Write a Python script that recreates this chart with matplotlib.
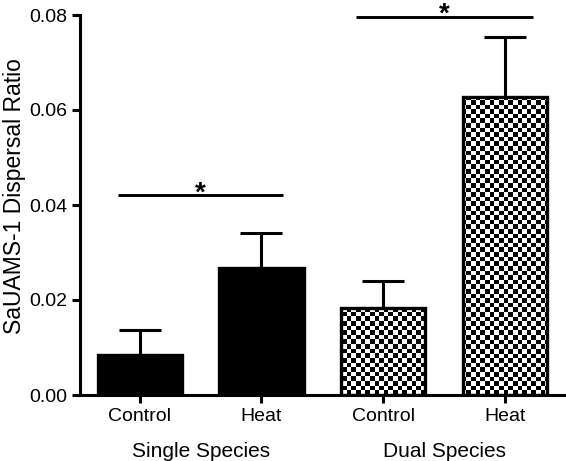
import numpy as np
import matplotlib
matplotlib.use("Agg")
import matplotlib.pyplot as plt
from matplotlib.transforms import offset_copy

plt.rcParams['font.family'] = ['Liberation Sans', 'DejaVu Sans']
plt.rcParams['mathtext.fontset'] = 'custom'
plt.rcParams['mathtext.rm'] = 'Liberation Sans'
plt.rcParams['mathtext.bf'] = 'Liberation Sans:bold'

categories = ["Control", "Heat", "Control", "Heat"]
groups = ["Single Species", "Dual Species"]
means = [0.0085, 0.0267, 0.0184, 0.0628]
errors = [0.0052, 0.0075, 0.0055, 0.0125]
checker = [False, False, True, True]
yticks = [0.00, 0.02, 0.04, 0.06, 0.08]
sig_pairs = [(0, 1, 0.042, 0.18), (2, 3, 0.0796, 0.225)]

fig = plt.figure(figsize=(5.66, 4.61), dpi=100)
W, H = 566, 461
ax = fig.add_axes([80 / W, 1 - 395 / H, (566 - 80) / W, (395 - 15) / H])

x = np.arange(len(categories))
bw = 0.69
bars = ax.bar(x, means, width=bw, color=['black' if not c else 'none' for c in checker],
              edgecolor='black', linewidth=2.4, zorder=3)
ax.errorbar(x, means, yerr=[np.zeros(len(means)), errors], fmt='none',
            ecolor='black', elinewidth=2.2, capsize=15, capthick=2.2, zorder=2)

ax.set_xlim(-0.49, 3.5)
ax.set_ylim(0, 0.08)

# checkerboard fill clipped to bars
cell = 4.6
nx = int((566 - 80) / cell) + 1
ny = int((395 - 15) / cell) + 1
board = (np.add.outer(np.arange(ny), np.arange(nx)) % 2).astype(float)
x0, x1 = ax.get_xlim()
y0, y1 = ax.get_ylim()
for b, c in zip(bars, checker):
    if c:
        im = ax.imshow(board, cmap='gray', vmin=0, vmax=1, interpolation='nearest',
                       extent=[x0, x0 + nx * cell / (566 - 80) * (x1 - x0),
                               y0, y0 + ny * cell / (395 - 15) * (y1 - y0)],
                       origin='lower', aspect='auto', zorder=2.5)
        im.set_clip_path(b)
ax.set_xlim(x0, x1)
ax.set_ylim(y0, y1)

ax.set_yticks(yticks)
ax.set_yticklabels([f"{v:.2f}" for v in yticks], fontsize=14)
ax.set_xticks(x)
ax.set_xticklabels(categories, fontsize=14)
ax.tick_params(axis='both', direction='out', length=6, width=2.2, pad=3)
for s in ['top', 'right']:
    ax.spines[s].set_visible(False)
for s in ['left', 'bottom']:
    ax.spines[s].set_linewidth(2.2)
ax.set_ylabel("SaUAMS-1 Dispersal Ratio", fontsize=16.5, ha='center', va='center')
ax.yaxis.set_label_coords((15 - 80) / 486, (395 - 196.5) / 380)

# group labels
for gi, g in enumerate(groups):
    ax.text(gi * 2 + 0.5, -0.0098, g, ha='center', va='top', fontsize=15,
            transform=ax.transData, clip_on=False)

# significance bars
for a, b_, yv, ext in sig_pairs:
    ax.plot([a - ext, b_ + ext], [yv, yv], color='black', linewidth=2.1,
            clip_on=False, solid_capstyle='butt')
    tr = offset_copy(ax.transData, fig=fig, x=0, y=16, units='dots')
    ax.text((a + b_) / 2, yv, r"$\mathbf{*}$", ha='center', va='top', fontsize=20,
            clip_on=False, transform=tr)

fig.savefig("out.png", dpi=100)
